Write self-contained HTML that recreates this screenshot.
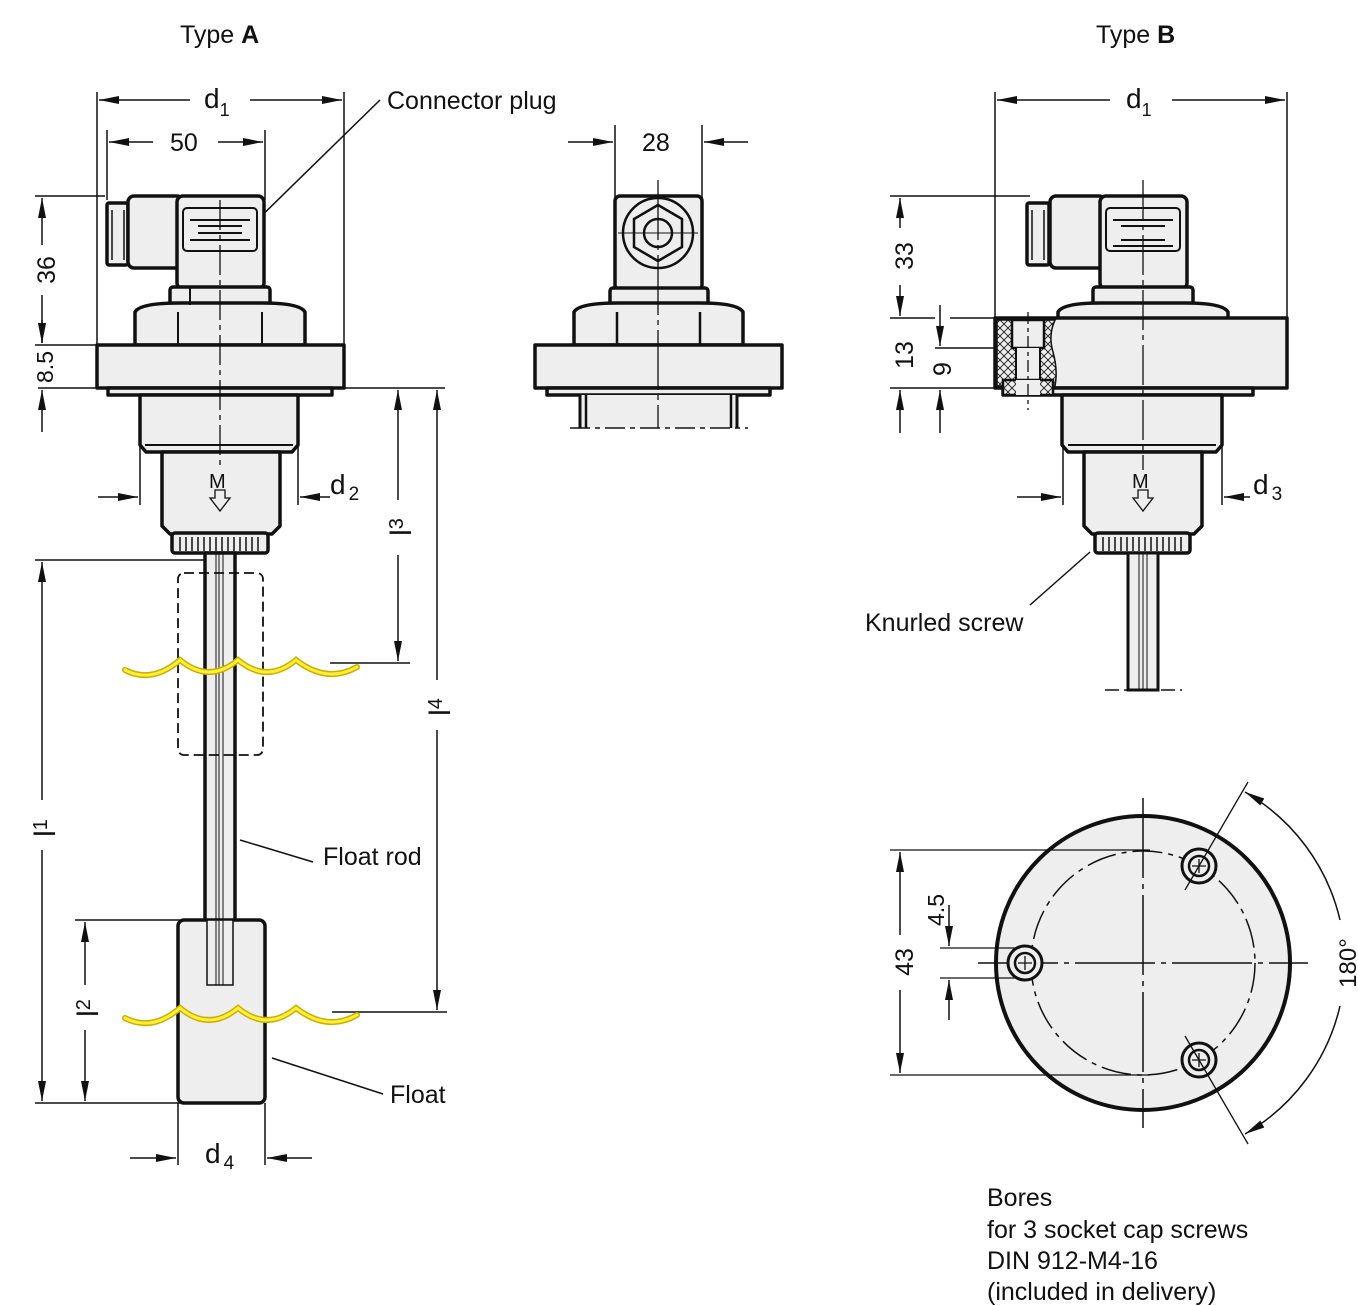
<!DOCTYPE html>
<html><head><meta charset="utf-8"><style>
html,body{margin:0;padding:0;background:#fff;}
svg{display:block;}
text{font-family:"Liberation Sans",Arial,sans-serif;fill:#111;}
</style></head><body>
<svg width="1358" height="1306" viewBox="0 0 1358 1306" xmlns="http://www.w3.org/2000/svg">
<defs>
<marker id="a" viewBox="0 0 20 8" refX="20" refY="4" markerWidth="20" markerHeight="8" markerUnits="userSpaceOnUse" orient="auto-start-reverse"><path d="M0,0 L20,4 L0,8 z" fill="#111"/></marker>
<pattern id="h" width="8" height="8" patternUnits="userSpaceOnUse"><rect width="8" height="8" fill="#eee"/><path d="M0,0 L8,8 M8,0 L0,8" stroke="#111" stroke-width="0.8"/></pattern>
</defs>
<g fill="none" stroke="#111" stroke-width="1.5">
<line x1="97" y1="92" x2="97" y2="345"/><line x1="344" y1="92" x2="344" y2="345"/>
<line x1="190" y1="100" x2="99" y2="100" marker-end="url(#a)"/><line x1="250" y1="100" x2="342" y2="100" marker-end="url(#a)"/>
<line x1="107" y1="130" x2="107" y2="200"/><line x1="265" y1="130" x2="265" y2="200"/>
<line x1="153" y1="142" x2="109" y2="142" marker-end="url(#a)"/><line x1="218" y1="142" x2="263" y2="142" marker-end="url(#a)"/>
<line x1="245" y1="232" x2="380" y2="100"/>
<line x1="35" y1="196" x2="105" y2="196"/><line x1="35" y1="345" x2="97" y2="345"/>
<line x1="38" y1="388" x2="445" y2="388"/>
<line x1="42" y1="245" x2="42" y2="198" marker-end="url(#a)"/><line x1="42" y1="295" x2="42" y2="343" marker-end="url(#a)"/>
<line x1="42" y1="320" x2="42" y2="343" marker-end="url(#a)"/><line x1="42" y1="432" x2="42" y2="390" marker-end="url(#a)"/>
<line x1="398" y1="500" x2="398" y2="390" marker-end="url(#a)"/><line x1="398" y1="555" x2="398" y2="661" marker-end="url(#a)"/>
<line x1="330" y1="663" x2="410" y2="663"/>
<line x1="437" y1="680" x2="437" y2="390" marker-end="url(#a)"/><line x1="437" y1="730" x2="437" y2="1010" marker-end="url(#a)"/>
<line x1="332" y1="1012" x2="447" y2="1012"/>
<line x1="35" y1="560" x2="215" y2="560"/><line x1="35" y1="1103" x2="180" y2="1103"/>
<line x1="42" y1="800" x2="42" y2="562" marker-end="url(#a)"/><line x1="42" y1="850" x2="42" y2="1101" marker-end="url(#a)"/>
<line x1="75" y1="920" x2="180" y2="920"/>
<line x1="85" y1="985" x2="85" y2="922" marker-end="url(#a)"/><line x1="85" y1="1030" x2="85" y2="1101" marker-end="url(#a)"/>
<line x1="140" y1="445" x2="140" y2="505"/><line x1="298" y1="445" x2="298" y2="505"/>
<line x1="98" y1="497" x2="138" y2="497" marker-end="url(#a)"/><line x1="330" y1="497" x2="300" y2="497" marker-end="url(#a)"/>
<line x1="178" y1="1103" x2="178" y2="1165"/><line x1="265" y1="1103" x2="265" y2="1165"/>
<line x1="130" y1="1158" x2="176" y2="1158" marker-end="url(#a)"/><line x1="312" y1="1158" x2="267" y2="1158" marker-end="url(#a)"/>
<line x1="240" y1="840" x2="313" y2="862"/><line x1="272" y1="1058" x2="383" y2="1094"/>
</g>
<g stroke="#111" stroke-width="3.5" fill="#eee" stroke-linejoin="round">
<rect x="107" y="203" width="21" height="62" rx="2"/>
<rect x="128" y="196" width="55" height="72" rx="6"/>
<rect x="177" y="196" width="87" height="93" rx="6"/>
<rect x="183" y="208" width="74" height="43" rx="4" stroke-width="2"/>
<rect x="170" y="287" width="100" height="18" rx="3"/>
<path d="M135,345 L135,312 Q140,303 180,303 L262,303 Q300,303 305,312 L305,345 Z"/>
<rect x="97" y="345" width="247" height="43"/>
<rect x="108" y="388" width="224" height="7"/>
<path d="M140,395 L140,445 L146,452 L292,452 L298,445 L298,395 Z"/>
<path d="M162,452 L162,526 L170,534 L272,534 L280,526 L280,452 Z"/>
<rect x="172" y="533" width="96" height="20" rx="3"/>
<rect x="205" y="553" width="30" height="368"/>
<rect x="178" y="920" width="87" height="183" rx="6"/>
<rect x="207" y="920" width="26" height="65" stroke-width="1.5"/>
</g>
<g stroke="#111" stroke-width="2" fill="none">
<line x1="190" y1="220" x2="250" y2="220"/><line x1="198" y1="226" x2="242" y2="226"/>
<line x1="198" y1="233" x2="242" y2="233"/><line x1="190" y1="240" x2="250" y2="240"/>
<line x1="190" y1="287" x2="190" y2="305"/>
<line x1="178" y1="312" x2="178" y2="345"/><line x1="262" y1="312" x2="262" y2="345"/>
<path d="M112,210 v50 M124,210 v50" stroke-width="1.5"/>
<line x1="145" y1="445" x2="293" y2="445"/>
<line x1="216" y1="553" x2="216" y2="985" stroke-width="1"/><line x1="219" y1="553" x2="219" y2="985" stroke-width="1"/><line x1="223" y1="553" x2="223" y2="985" stroke-width="1"/>
<path d="M180,537v14M186,537v14M192,537v14M198,537v14M204,537v14M210,537v14M216,537v14M222,537v14M228,537v14M234,537v14M240,537v14M246,537v14M252,537v14M258,537v14" stroke-width="1.5"/>
<rect x="178" y="573" width="85" height="182" rx="6" stroke-dasharray="10,5" stroke-width="1.8"/>
<line x1="220" y1="200" x2="220" y2="470" stroke-width="1.3" stroke-dasharray="30,5,5,5"/>
</g>
<g fill="none" stroke-linecap="round">
<path d="M125,670 Q152,684 180,660 Q209,684 238,660 Q267,684 296,660 Q327,684 357,667" stroke="#c9b000" stroke-width="6"/>
<path d="M125,670 Q152,684 180,660 Q209,684 238,660 Q267,684 296,660 Q327,684 357,667" stroke="#ffee3a" stroke-width="3"/>
<path d="M125,1018 Q152,1032 180,1008 Q209,1032 238,1008 Q267,1032 296,1008 Q327,1032 357,1015" stroke="#c9b000" stroke-width="6"/>
<path d="M125,1018 Q152,1032 180,1008 Q209,1032 238,1008 Q267,1032 296,1008 Q327,1032 357,1015" stroke="#ffee3a" stroke-width="3"/>
</g>
<g fill="none" stroke="#111" stroke-width="1.5">
<line x1="615" y1="125" x2="615" y2="200"/><line x1="702" y1="125" x2="702" y2="200"/>
<line x1="568" y1="142" x2="613" y2="142" marker-end="url(#a)"/><line x1="748" y1="142" x2="704" y2="142" marker-end="url(#a)"/>
</g>
<g stroke="#111" stroke-width="3.5" fill="#eee" stroke-linejoin="round">
<rect x="615" y="196" width="87" height="94" rx="5"/>
<rect x="610" y="288" width="98" height="17" rx="3"/>
<path d="M574,345 L574,312 Q579,303 618,303 L700,303 Q738,303 743,312 L743,345 Z"/>
<rect x="535" y="345" width="247" height="43"/>
<rect x="547" y="388" width="223" height="7"/>
<rect x="580" y="395" width="157" height="33" stroke="none"/>
</g>
<g fill="none" stroke="#111" stroke-width="2.5">
<circle cx="658" cy="233" r="35"/>
<polygon points="658,205 682,219 682,247 658,261 634,247 634,219"/>
<circle cx="658" cy="233" r="14"/>
<line x1="617" y1="312" x2="617" y2="345"/><line x1="700" y1="312" x2="700" y2="345"/>
<line x1="580" y1="395" x2="580" y2="428" stroke-width="3"/><line x1="586" y1="395" x2="586" y2="428"/>
<line x1="737" y1="395" x2="737" y2="428" stroke-width="3"/><line x1="731" y1="395" x2="731" y2="428"/>
<line x1="570" y1="428" x2="748" y2="428" stroke-width="1.5" stroke-dasharray="20,5,5,5"/>
<line x1="658" y1="180" x2="658" y2="428" stroke-width="1.3" stroke-dasharray="60,5,5,5"/>
<line x1="618" y1="233" x2="698" y2="233" stroke-width="1"/>
</g>
<g fill="none" stroke="#111" stroke-width="1.5">
<line x1="995" y1="92" x2="995" y2="320"/><line x1="1287" y1="92" x2="1287" y2="320"/>
<line x1="1110" y1="100" x2="997" y2="100" marker-end="url(#a)"/><line x1="1172" y1="100" x2="1285" y2="100" marker-end="url(#a)"/>
<line x1="890" y1="196" x2="1030" y2="196"/><line x1="890" y1="318" x2="935" y2="318"/><line x1="950" y1="318" x2="995" y2="318"/>
<line x1="890" y1="388" x2="995" y2="388"/><line x1="935" y1="348" x2="1000" y2="348"/>
<line x1="900" y1="228" x2="900" y2="198" marker-end="url(#a)"/><line x1="900" y1="285" x2="900" y2="316" marker-end="url(#a)"/>
<line x1="900" y1="433" x2="900" y2="390" marker-end="url(#a)"/>
<line x1="940" y1="305" x2="940" y2="346" marker-end="url(#a)"/><line x1="940" y1="433" x2="940" y2="390" marker-end="url(#a)"/>
<line x1="1063" y1="445" x2="1063" y2="505"/><line x1="1222" y1="445" x2="1222" y2="505"/>
<line x1="1017" y1="497" x2="1061" y2="497" marker-end="url(#a)"/><line x1="1250" y1="497" x2="1224" y2="497" marker-end="url(#a)"/>
<line x1="1090" y1="552" x2="1030" y2="605"/>
</g>
<g stroke="#111" stroke-width="3.5" fill="#eee" stroke-linejoin="round">
<rect x="1027" y="203" width="22" height="62" rx="2"/>
<rect x="1050" y="196" width="55" height="72" rx="6"/>
<rect x="1100" y="196" width="87" height="93" rx="6"/>
<rect x="1106" y="208" width="74" height="43" rx="4" stroke-width="2"/>
<rect x="1093" y="287" width="100" height="18" rx="3"/>
<path d="M1058,320 L1058,312 Q1063,303 1100,303 L1185,303 Q1223,303 1228,312 L1228,320 Z"/>
<rect x="995" y="318" width="292" height="70"/>
<rect x="1003" y="388" width="250" height="7"/>
<path d="M1062,395 L1062,445 L1068,452 L1216,452 L1222,445 L1222,395 Z"/>
<path d="M1084,452 L1084,526 L1092,534 L1194,534 L1202,526 L1202,452 Z"/>
<rect x="1095" y="533" width="95" height="20" rx="3"/>
</g>
<g stroke="#111" stroke-width="2" fill="none">
<path d="M997,320 L1055,320 Q1048,335 1053,352 Q1058,370 1055,386 L997,386 Z" fill="url(#h)" stroke-width="1.5"/>
<rect x="1012" y="320" width="32" height="28" fill="#eee" stroke-width="2.5"/>
<rect x="1016" y="348" width="24" height="32" fill="#eee" stroke="none"/>
<line x1="1016" y1="348" x2="1016" y2="380"/><line x1="1040" y1="348" x2="1040" y2="380"/>
<rect x="1003" y="380" width="50" height="15" fill="url(#h)" stroke-width="2.5"/>
<rect x="1016" y="380" width="24" height="15" fill="#eee" stroke="none"/>
<line x1="1028" y1="312" x2="1028" y2="410" stroke-width="1.3" stroke-dasharray="12,4,4,4"/>
<line x1="1113" y1="220" x2="1173" y2="220"/><line x1="1121" y1="226" x2="1165" y2="226"/>
<line x1="1121" y1="240" x2="1165" y2="240"/><line x1="1113" y1="246" x2="1173" y2="246"/>
<path d="M1032,210 v50 M1044,210 v50" stroke-width="1.5"/>
<line x1="1068" y1="445" x2="1216" y2="445"/>
<path d="M1103,537v14M1109,537v14M1115,537v14M1121,537v14M1127,537v14M1133,537v14M1139,537v14M1145,537v14M1151,537v14M1157,537v14M1163,537v14M1169,537v14M1175,537v14M1181,537v14" stroke-width="1.5"/>
<rect x="1128" y="553" width="30" height="137" fill="#eee" stroke-width="3"/>
<line x1="1139" y1="553" x2="1139" y2="690" stroke-width="1"/><line x1="1143" y1="553" x2="1143" y2="690" stroke-width="1"/><line x1="1147" y1="553" x2="1147" y2="690" stroke-width="1"/>
<line x1="1105" y1="690" x2="1182" y2="690" stroke-width="1.5" stroke-dasharray="14,5,4,5"/>
<line x1="1143" y1="180" x2="1143" y2="470" stroke-width="1.3" stroke-dasharray="40,5,5,5"/>
<path d="M1138,490 h10 v8 h5 l-10,13 l-10,-13 h5 z" stroke-width="1.3"/>
<path d="M215,490 h10 v8 h5 l-10,13 l-10,-13 h5 z" stroke-width="1.3"/>
</g>
<g stroke="#111" fill="none">
<circle cx="1143" cy="963" r="147" fill="#eee" stroke-width="4"/>
<circle cx="1143" cy="963" r="112" stroke-width="1.5" stroke-dasharray="30,6,5,6"/>
<line x1="1143" y1="798" x2="1143" y2="1128" stroke-width="1.5" stroke-dasharray="80,6,5,6"/>
<line x1="978" y1="963" x2="1308" y2="963" stroke-width="1.5" stroke-dasharray="80,6,5,6"/>
<g fill="#eee" stroke-width="3">
<circle cx="1025" cy="963" r="17"/><circle cx="1199" cy="866" r="17"/><circle cx="1199" cy="1060" r="17"/>
</g>
<g stroke-width="2.5">
<circle cx="1025" cy="963" r="10"/><circle cx="1199" cy="866" r="10"/><circle cx="1199" cy="1060" r="10"/>
</g>
<g stroke-width="1.3">
<path d="M1018,963h14M1025,956v14M1192,866h14M1199,859v14M1192,1060h14M1199,1053v14"/>
<line x1="1185" y1="890" x2="1248" y2="782"/><line x1="1185" y1="1036" x2="1248" y2="1144"/>
<line x1="890" y1="850" x2="1150" y2="850"/><line x1="890" y1="1075" x2="1150" y2="1075"/>
<line x1="940" y1="948" x2="1020" y2="948"/><line x1="940" y1="978" x2="1020" y2="978"/>
</g>
<g stroke-width="1.5">
<line x1="900" y1="935" x2="900" y2="852" marker-end="url(#a)"/><line x1="900" y1="990" x2="900" y2="1073" marker-end="url(#a)"/>
<line x1="949" y1="905" x2="949" y2="946" marker-end="url(#a)"/><line x1="949" y1="1020" x2="949" y2="980" marker-end="url(#a)"/>
<path d="M1340,920 A200,200 0 0 0 1245,792" marker-end="url(#a)"/>
<path d="M1340,1006 A200,200 0 0 1 1245,1134" marker-end="url(#a)"/>
</g>
</g>
<text x="180" y="43" font-size="25">Type <tspan font-weight="bold">A</tspan></text>
<text x="1096" y="43" font-size="25">Type <tspan font-weight="bold">B</tspan></text>
<text x="204" y="108" font-size="28">d<tspan font-size="18" dy="8">1</tspan></text>
<text x="1126" y="108" font-size="28">d<tspan font-size="18" dy="8">1</tspan></text>
<text x="387" y="109" font-size="25">Connector plug</text>
<text x="170" y="151" font-size="25">50</text>
<text x="642" y="151" font-size="25">28</text>
<text x="330" y="494" font-size="28">d<tspan font-size="19" dx="3" dy="6">2</tspan></text>
<text x="1253" y="494" font-size="28">d<tspan font-size="19" dx="3" dy="6">3</tspan></text>
<text x="205" y="1163" font-size="28">d<tspan font-size="19" dx="3" dy="6">4</tspan></text>
<text x="323" y="865" font-size="25">Float rod</text>
<text x="390" y="1103" font-size="25">Float</text>
<text x="865" y="631" font-size="25">Knurled screw</text>
<text font-size="25" transform="translate(55,270) rotate(-90)" text-anchor="middle">36</text>
<text font-size="23" transform="translate(53,367) rotate(-90)" text-anchor="middle">8.5</text>
<text font-size="25" transform="translate(913,256) rotate(-90)" text-anchor="middle">33</text>
<text font-size="25" transform="translate(913,355) rotate(-90)" text-anchor="middle">13</text>
<text font-size="25" transform="translate(951,369) rotate(-90)" text-anchor="middle">9</text>
<text font-size="25" transform="translate(913,962) rotate(-90)" text-anchor="middle">43</text>
<text font-size="23" transform="translate(944,910) rotate(-90)" text-anchor="middle">4.5</text>
<text font-size="24" transform="translate(1356,963) rotate(-90)" text-anchor="middle">180°</text>
<text font-size="30" transform="translate(411,527) rotate(-90)" text-anchor="middle">l<tspan font-size="20" dy="-8">3</tspan></text>
<text font-size="30" transform="translate(450,707) rotate(-90)" text-anchor="middle">l<tspan font-size="20" dy="-8">4</tspan></text>
<text font-size="30" transform="translate(55,828) rotate(-90)" text-anchor="middle">l<tspan font-size="20" dy="-8">1</tspan></text>
<text font-size="30" transform="translate(98,1008) rotate(-90)" text-anchor="middle">l<tspan font-size="20" dy="-8">2</tspan></text>
<text x="209" y="488" font-size="20">M</text>
<text x="1132" y="488" font-size="20">M</text>
<text x="987" y="1206" font-size="25">Bores</text>
<text x="987" y="1238" font-size="25">for 3 socket cap screws</text>
<text x="987" y="1269" font-size="25">DIN 912-M4-16</text>
<text x="987" y="1300" font-size="25">(included in delivery)</text>
</svg>
</body></html>
